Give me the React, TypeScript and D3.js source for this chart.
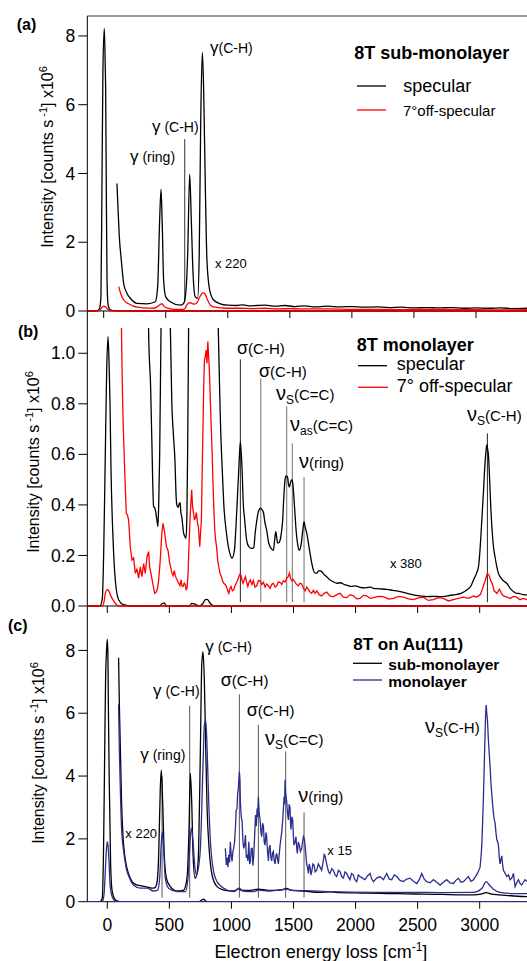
import React from 'react';
import * as d3 from 'd3';

type P = [number, number];

// ---------- tick values ----------
const xTicks = [0, 500, 1000, 1500, 2000, 2500, 3000];
const yTicksA = [0, 2, 4, 6, 8];
const yTicksB = [0, 0.2, 0.4, 0.6, 0.8, 1.0];
const yTicksC = [0, 2, 4, 6, 8];

// ---------- panel (a) 8T sub-monolayer ----------
const aSpecElastic: P[] = [[-132,0],[-60,0],[-35,0.05],[-22,0.42],[-14,3.6],[-6,7.0],[5,8.22],[12,7.2],[16,6.4],[21,3.6],[27,0.9],[35,0.2],[50,0.04],[80,0.01],[200,0],[3411,0]];
const aSpecX220: P[] = [[107,3.71],[115,3.03],[126,2.16],[142,1.48],[161,0.80],[188,0.51],[215,0.37],[268,0.22],[349,0.21],[416,0.27],[435,0.71],[451,2.65],[462,3.54],[471,2.65],[483,0.90],[500,0.41],[537,0.27],[617,0.17],[644,0.22],[661,0.51],[677,1.68],[693,3.98],[706,2.65],[720,1.10],[738,0.41],[757,0.37],[770,1.68],[782,5.55],[795,7.52],[805,6.52],[819,3.61],[832,1.48],[854,0.61],[886,0.32],[940,0.21],[1000,0.17],[1074,0.16],[1120,0.18],[1180,0.15],[1235,0.16],[1300,0.17],[1380,0.14],[1460,0.16],[1540,0.13],[1620,0.15],[1700,0.12],[1800,0.14],[1900,0.12],[2000,0.13],[2100,0.11],[2200,0.12],[2300,0.10],[2400,0.11],[2500,0.09],[2600,0.10],[2700,0.09],[2800,0.10],[2900,0.08],[3000,0.09],[3100,0.08],[3200,0.09],[3300,0.07],[3411,0.08]];
const aOffElastic: P[] = [[-132,0],[-60,0],[-30,0.03],[-15,0.1],[0,0.14],[15,0.12],[30,0.06],[50,0.02],[80,0],[3411,0]];
const aOffX220: P[] = [[121,0.71],[137,0.51],[161,0.32],[201,0.21],[268,0.11],[330,0.09],[403,0.08],[430,0.12],[443,0.15],[458,0.2],[470,0.21],[483,0.15],[497,0.11],[530,0.07],[564,0.05],[644,0.05],[660,0.1],[671,0.18],[685,0.23],[698,0.24],[712,0.22],[730,0.2],[745,0.22],[757,0.27],[770,0.38],[784,0.47],[795,0.52],[805,0.53],[816,0.5],[827,0.41],[840,0.3],[854,0.2],[870,0.14],[899,0.11],[950,0.09],[993,0.08],[1100,0.08],[1200,0.07],[1300,0.08],[1400,0.06],[1500,0.07],[1600,0.06],[1800,0.06],[2000,0.05],[2200,0.05],[2400,0.04],[2600,0.05],[2800,0.04],[3000,0.04],[3200,0.03],[3411,0.04]];
const aMarks: P[] = [[653, 5.0]];

// ---------- panel (b) 8T monolayer ----------
const bSpecElastic: P[] = [[-161,0],[-60,0],[-40,0.03],[-29,0.21],[-16,0.60],[-5,0.93],[6,1.066],[15,0.95],[22,0.8],[30,0.54],[46,0.27],[65,0.10],[92,0.024],[132,0.005],[200,0],[420,0],[445,0.01],[460,0.012],[475,0],[660,0],[680,0.01],[700,0.008],[740,0],[770,0.01],[790,0.025],[805,0.026],[830,0.01],[860,0],[3381,0]];
const bOffElastic: P[] = [[-161,0],[-40,0],[-25,0.02],[-16,0.05],[3,0.066],[12,0.06],[24,0.045],[51,0.02],[75,0.005],[100,0],[3381,0]];
const bSpecX380: P[] = [[322,1.6],[333,1.08],[349,0.868],[360,0.63],[373,0.393],[380,0.39],[387,0.38],[400,0.34],[408,0.314],[415,0.42],[422,0.60],[433,1.1],[440,1.6],[455,3],[490,1.8],[508,1.1],[520,0.8],[532,0.683],[546,0.565],[553,0.45],[560,0.40],[570,0.39],[580,0.405],[586,0.409],[593,0.37],[600,0.353],[615,0.288],[626,0.274],[634,0.268],[641,0.35],[647,0.6],[652,0.9],[655,1.1],[665,2.5],[690,4],[720,2.5],[760,3],[790,6],[850,2.5],[880,1.4],[894,1.1],[903,0.9],[911,0.736],[925,0.55],[938,0.406],[960,0.288],[987,0.209],[1005,0.189],[1024,0.22],[1035,0.3],[1046,0.406],[1059,0.538],[1072,0.65],[1086,0.538],[1096,0.40],[1105,0.35],[1123,0.26],[1140,0.235],[1164,0.228],[1180,0.23],[1191,0.288],[1205,0.34],[1217,0.373],[1236,0.387],[1248,0.38],[1258,0.37],[1270,0.33],[1284,0.30],[1300,0.25],[1311,0.235],[1325,0.225],[1338,0.22],[1348,0.26],[1357,0.294],[1365,0.27],[1371,0.25],[1380,0.25],[1392,0.26],[1405,0.3],[1413,0.34],[1422,0.43],[1432,0.50],[1440,0.515],[1451,0.512],[1460,0.48],[1467,0.47],[1477,0.49],[1486,0.50],[1493,0.49],[1499,0.46],[1510,0.38],[1521,0.30],[1535,0.24],[1547,0.22],[1556,0.23],[1566,0.26],[1575,0.30],[1585,0.334],[1595,0.31],[1606,0.29],[1620,0.25],[1633,0.209],[1647,0.17],[1660,0.142],[1675,0.13],[1687,0.13],[1705,0.14],[1727,0.136],[1745,0.125],[1767,0.116],[1790,0.105],[1821,0.096],[1850,0.09],[1880,0.092],[1910,0.085],[1929,0.083],[1960,0.078],[2000,0.08],[2036,0.074],[2080,0.072],[2120,0.075],[2144,0.07],[2190,0.068],[2251,0.066],[2300,0.062],[2359,0.057],[2400,0.052],[2466,0.044],[2520,0.04],[2573,0.037],[2630,0.038],[2681,0.037],[2740,0.04],[2788,0.044],[2850,0.05],[2896,0.063],[2930,0.08],[2950,0.103],[2975,0.13],[2990,0.155],[3005,0.24],[3017,0.34],[3030,0.45],[3038,0.525],[3050,0.61],[3057,0.637],[3064,0.62],[3070,0.6],[3080,0.5],[3089,0.393],[3100,0.3],[3111,0.235],[3125,0.19],[3138,0.155],[3150,0.13],[3164,0.116],[3190,0.1],[3218,0.09],[3245,0.07],[3272,0.057],[3300,0.05],[3313,0.05],[3350,0.045],[3381,0.044]];
const bOffX380: P[] = [[108,1.5],[114,1.1],[120,0.9],[127,0.736],[140,0.538],[153,0.367],[162,0.36],[172,0.34],[185,0.235],[199,0.182],[212,0.19],[226,0.129],[239,0.148],[252,0.11],[266,0.155],[279,0.116],[293,0.168],[306,0.129],[320,0.195],[333,0.215],[341,0.155],[352,0.129],[366,0.09],[382,0.05],[395,0.055],[405,0.07],[414,0.103],[425,0.17],[433,0.235],[440,0.29],[449,0.327],[455,0.31],[462,0.29],[476,0.235],[489,0.22],[503,0.17],[512,0.15],[521,0.13],[530,0.12],[540,0.14],[548,0.12],[556,0.11],[565,0.1],[575,0.09],[585,0.08],[594,0.103],[602,0.08],[610,0.077],[620,0.09],[629,0.083],[635,0.065],[642,0.07],[650,0.12],[656,0.209],[663,0.3],[669,0.367],[675,0.42],[680,0.46],[686,0.4],[691,0.38],[697,0.36],[702,0.34],[710,0.35],[718,0.37],[726,0.33],[734,0.314],[740,0.27],[745,0.235],[750,0.28],[758,0.34],[765,0.55],[772,0.736],[778,0.9],[783,0.973],[790,0.99],[796,1.013],[803,0.96],[810,1.046],[815,1.0],[820,0.96],[826,0.88],[831,0.80],[838,0.7],[845,0.60],[852,0.48],[858,0.39],[866,0.3],[873,0.26],[880,0.235],[890,0.18],[898,0.155],[908,0.13],[919,0.116],[928,0.1],[938,0.09],[950,0.085],[960,0.077],[970,0.06],[979,0.05],[988,0.07],[997,0.077],[1008,0.06],[1019,0.063],[1028,0.08],[1038,0.09],[1048,0.1],[1059,0.116],[1068,0.125],[1078,0.12],[1086,0.1],[1094,0.09],[1104,0.105],[1113,0.116],[1122,0.095],[1132,0.077],[1142,0.095],[1153,0.103],[1165,0.085],[1177,0.1],[1190,0.075],[1204,0.08],[1217,0.1],[1231,0.1],[1245,0.085],[1258,0.094],[1271,0.075],[1284,0.087],[1298,0.08],[1311,0.07],[1325,0.085],[1338,0.09],[1352,0.075],[1365,0.08],[1378,0.095],[1392,0.094],[1405,0.085],[1419,0.1],[1432,0.095],[1445,0.11],[1456,0.115],[1467,0.13],[1476,0.11],[1486,0.1],[1499,0.105],[1512,0.094],[1525,0.085],[1539,0.08],[1552,0.09],[1566,0.087],[1580,0.07],[1593,0.06],[1606,0.075],[1620,0.066],[1633,0.055],[1647,0.05],[1660,0.062],[1673,0.05],[1687,0.06],[1707,0.045],[1727,0.04],[1747,0.05],[1767,0.055],[1794,0.04],[1821,0.036],[1848,0.045],[1875,0.05],[1902,0.035],[1929,0.033],[1955,0.045],[1982,0.04],[2009,0.028],[2036,0.03],[2063,0.042],[2090,0.04],[2117,0.03],[2144,0.033],[2184,0.038],[2224,0.037],[2264,0.027],[2305,0.03],[2345,0.038],[2385,0.035],[2425,0.028],[2466,0.025],[2506,0.032],[2546,0.035],[2586,0.022],[2627,0.025],[2667,0.033],[2707,0.03],[2748,0.02],[2788,0.025],[2828,0.03],[2869,0.035],[2910,0.03],[2950,0.04],[2970,0.035],[2990,0.04],[3005,0.045],[3017,0.06],[3030,0.08],[3044,0.1],[3053,0.115],[3062,0.129],[3070,0.125],[3078,0.12],[3088,0.1],[3097,0.094],[3106,0.08],[3116,0.06],[3127,0.055],[3138,0.05],[3148,0.058],[3159,0.066],[3175,0.05],[3191,0.04],[3218,0.035],[3245,0.03],[3272,0.038],[3298,0.035],[3325,0.025],[3352,0.03],[3381,0.025]];
const bMarksDark: P[] = [[1072, 0.976], [3062, 0.683]];
const bMarksGray: P[] = [[1236, 0.90], [1445, 0.79], [1491, 0.644], [1585, 0.51]];

// ---------- panel (c) 8T on Au(111) ----------
const cSubElastic: P[] = [[-161,0],[-60,0],[-41,0.1],[-30,1.7],[-22,4.35],[-14,7.0],[-6,8.0],[0,8.36],[5,7.9],[8,6.48],[16,3.82],[27,1.17],[40,0.32],[67,0.05],[100,0],[740,0],[760,0.05],[775,0.08],[790,0.03],[820,0],[3381,0]];
const cMonoElastic: P[] = [[-161,0],[-50,0],[-35,0.05],[-25,0.3],[-18,0.8],[-8,1.6],[0,1.91],[8,1.7],[14,1.3],[21,0.64],[35,0.21],[54,0.05],[80,0],[3381,0]];
const cSubX220: P[] = [[91,7.77],[95,6.8],[99,5.95],[107,4.57],[115,3.18],[126,2.12],[140,1.49],[159,1.06],[185,0.75],[226,0.55],[266,0.51],[306,0.48],[340,0.45],[360,0.43],[385,0.45],[400,0.6],[414,1.49],[427,3.61],[435,4.19],[446,3.18],[459,1.49],[476,0.75],[508,0.48],[562,0.34],[615,0.37],[642,0.75],[658,2.23],[669,4.09],[680,3.18],[691,1.49],[707,0.75],[723,0.91],[736,1.7],[750,4.89],[761,7.54],[771,7.96],[782,7.0],[793,4.89],[804,2.97],[820,1.7],[844,0.85],[884,0.48],[938,0.37],[1018,0.34],[1064,0.42],[1072,0.37],[1140,0.36],[1217,0.4],[1300,0.36],[1400,0.37],[1445,0.42],[1470,0.38],[1520,0.35],[1606,0.33],[1700,0.3],[1800,0.31],[1875,0.29],[2000,0.28],[2100,0.27],[2250,0.26],[2412,0.25],[2550,0.24],[2700,0.23],[2850,0.22],[2950,0.22],[3010,0.24],[3052,0.29],[3090,0.25],[3150,0.22],[3250,0.19],[3381,0.16]];
const cMonoX220: P[] = [[91,6.28],[97,4.89],[105,3.61],[115,2.34],[132,1.6],[153,1.06],[180,0.75],[212,0.53],[266,0.43],[320,0.43],[373,0.34],[406,0.37],[422,0.75],[433,1.7],[443,2.23],[454,1.7],[467,0.75],[494,0.43],[562,0.32],[629,0.32],[650,0.75],[664,1.7],[677,2.34],[691,1.91],[702,1.28],[718,0.85],[736,1.12],[750,1.7],[771,4.35],[782,5.63],[793,5.79],[804,4.89],[817,3.18],[831,1.91],[852,1.06],[884,0.64],[938,0.43],[1018,0.32],[1064,0.43],[1090,0.34],[1180,0.32],[1217,0.37],[1300,0.34],[1445,0.4],[1500,0.36],[1606,0.35],[1800,0.32],[2144,0.3],[2400,0.3],[2681,0.29],[2950,0.3],[3017,0.42],[3052,0.64],[3078,0.53],[3111,0.4],[3164,0.3],[3272,0.26],[3381,0.26]];
const cMonoX15: P[] = [[951,1.7],[959,1.17],[965,1.4],[972,1.1],[978,1.49],[985,1.25],[991,1.91],[998,1.5],[1005,1.28],[1012,1.6],[1018,1.7],[1025,1.9],[1032,2.34],[1038,2.9],[1045,2.97],[1050,3.45],[1056,3.61],[1064,4.14],[1069,3.88],[1072,3.18],[1079,2.7],[1086,2.55],[1093,1.9],[1099,1.7],[1106,1.8],[1113,2.12],[1120,1.4],[1126,1.49],[1133,1.3],[1140,1.91],[1147,1.2],[1153,1.28],[1160,1.7],[1167,1.7],[1173,1.15],[1180,1.49],[1187,2.1],[1194,2.76],[1200,2.4],[1207,2.97],[1212,2.7],[1217,3.34],[1224,2.8],[1231,2.6],[1238,2.2],[1244,2.07],[1251,2.5],[1258,2.4],[1264,1.9],[1271,1.8],[1278,2.2],[1284,2.07],[1291,1.6],[1298,1.3],[1304,1.7],[1311,1.8],[1318,1.4],[1325,1.3],[1331,1.55],[1338,1.6],[1345,1.3],[1352,1.2],[1358,1.45],[1365,1.54],[1372,1.35],[1378,1.2],[1385,1.5],[1392,1.8],[1398,2.0],[1405,2.2],[1413,2.6],[1418,2.9],[1424,3.34],[1428,3.1],[1432,3.88],[1436,3.5],[1440,3.34],[1445,3.2],[1452,2.8],[1459,2.6],[1465,3.1],[1472,3.0],[1476,2.5],[1480,2.3],[1487,2.7],[1494,2.6],[1499,2.1],[1504,1.8],[1512,1.9],[1520,2.07],[1526,1.7],[1531,1.54],[1539,1.9],[1547,1.8],[1556,1.6],[1566,1.7],[1573,1.9],[1580,2.07],[1587,2.0],[1593,1.8],[1600,1.5],[1606,1.2],[1613,1.1],[1620,0.9],[1627,1.2],[1633,1.1],[1640,0.85],[1647,0.96],[1656,1.2],[1665,1.17],[1675,0.95],[1687,1.0],[1700,1.2],[1714,1.1],[1727,1.0],[1740,1.3],[1747,1.5],[1754,1.46],[1762,1.3],[1773,1.1],[1783,0.95],[1794,0.9],[1808,1.05],[1821,1.0],[1835,0.85],[1848,0.8],[1862,1.0],[1875,0.96],[1888,0.8],[1902,0.75],[1915,0.95],[1929,0.9],[1942,0.78],[1955,0.7],[1968,0.9],[1982,0.85],[1995,0.7],[2009,0.64],[2022,0.85],[2036,0.8],[2056,0.75],[2076,0.7],[2096,0.82],[2117,0.9],[2130,0.72],[2144,0.64],[2170,0.75],[2197,0.8],[2224,0.7],[2251,0.9],[2271,0.72],[2291,0.7],[2312,0.85],[2332,0.8],[2358,0.68],[2385,0.64],[2412,0.72],[2439,0.75],[2466,0.65],[2493,0.58],[2513,0.7],[2533,0.9],[2553,0.72],[2573,0.64],[2600,0.6],[2627,0.7],[2654,0.62],[2681,0.53],[2707,0.62],[2734,0.7],[2761,0.6],[2788,0.58],[2808,0.68],[2829,0.75],[2849,0.62],[2869,0.64],[2889,0.72],[2909,0.8],[2930,0.65],[2950,0.7],[2966,0.8],[2982,0.9],[3003,1.1],[3010,1.4],[3017,1.8],[3024,2.6],[3030,3.34],[3037,4.4],[3044,5.47],[3048,6.0],[3052,6.26],[3057,6.0],[3062,5.8],[3066,5.5],[3070,5.15],[3077,4.7],[3084,4.3],[3090,3.8],[3097,3.45],[3104,3.1],[3111,2.8],[3118,2.6],[3124,2.5],[3131,2.2],[3138,1.97],[3145,1.9],[3151,1.8],[3158,1.4],[3164,1.2],[3171,1.35],[3178,1.46],[3184,1.2],[3191,1.0],[3205,0.9],[3218,0.8],[3232,0.85],[3245,0.7],[3258,0.75],[3272,0.9],[3279,0.65],[3285,0.48],[3298,0.6],[3312,0.7],[3325,0.58],[3338,0.53],[3352,0.62],[3365,0.7],[3381,0.64]];
const cMarks: P[] = [[441, 4.0], [664, 6.24], [1064, 6.6], [1217, 5.63], [1437, 4.78], [1585, 2.84]];

// ---------- layout ----------
const FONT = "Arial, 'Liberation Sans', Helvetica, sans-serif";
const L = 87.3, R = 527;
const RED = '#ff0000';
const BLUE = '#2b2d8e';

const xA = d3.scaleLinear().domain([-132, 3411]).range([L, R]);
const xBC = d3.scaleLinear().domain([-161, 3381]).range([L, R]);
const yA = d3.scaleLinear().domain([0, 8.58]).range([311, 16]);
const yB = d3.scaleLinear().domain([0, 1.1]).range([606, 328]);
const yC = d3.scaleLinear().domain([0, 9]).range([901.7, 619]);

function path(data: P[], xs: any, ys: any, smooth = false) {
  return d3.line<P>().x(d => xs(d[0])).y(d => ys(d[1])).curve(smooth ? d3.curveMonotoneX : d3.curveLinear)(data) || '';
}

function YTitle({ x, y }: { x: number; y: number }) {
  return (
    <text transform={`translate(${x},${y}) rotate(-90)`} textAnchor="middle" fontSize={16} fontFamily={FONT}>
      Intensity [counts s<tspan dy={-6} fontSize={11}> -1</tspan><tspan dy={6}>] x10</tspan><tspan dy={-6} fontSize={11}>6</tspan>
    </text>
  );
}

function YAxis({ ys, ticks, fmt }: { ys: any; ticks: number[]; fmt: (v: number) => string }) {
  return (
    <g>
      {ticks.map(t => (
        <g key={t}>
          <line x1={L - 9} x2={L} y1={ys(t)} y2={ys(t)} stroke="#000" strokeWidth={1} />
          <text x={L - 12} y={ys(t)} dy="0.35em" textAnchor="end" fontSize={17.5} fontFamily={FONT}>{fmt(t)}</text>
        </g>
      ))}
    </g>
  );
}

function XTicks({ xs, y0, labels }: { xs: any; y0: number; labels?: boolean }) {
  return (
    <g>
      <line x1={L} x2={R} y1={y0} y2={y0} stroke="#000" strokeWidth={1} />
      {xTicks.map(t => (
        <g key={t}>
          <line x1={xs(t)} x2={xs(t)} y1={y0} y2={y0 + 7} stroke="#000" strokeWidth={1} />
          {labels && <text x={xs(t)} y={y0 + 29} textAnchor="middle" fontSize={17.5} fontFamily={FONT}>{t}</text>}
        </g>
      ))}
    </g>
  );
}

function Nu({ x, y, sub, rest, fs = 15 }: { x: number; y: number; sub?: string; rest: string; fs?: number }) {
  return (
    <text x={x} y={y} fontSize={fs} fontFamily={FONT}>
      <tspan fontSize={20}>ν</tspan>
      {sub ? <><tspan fontSize={12} dy={4}>{sub}</tspan><tspan dy={-4}>{rest}</tspan></> : <tspan>{rest}</tspan>}
    </text>
  );
}

function Gamma({ x, y, rest, space }: { x: number; y: number; rest: string; space?: boolean }) {
  return (
    <text x={x} y={y} fontSize={14} fontFamily={FONT}>
      <tspan fontSize={17}>γ</tspan>{space ? <tspan> {rest}</tspan> : <tspan>{rest}</tspan>}
    </text>
  );
}

function Sigma({ x, y }: { x: number; y: number }) {
  return (
    <text x={x} y={y} fontSize={15} fontFamily={FONT}>
      <tspan fontSize={18}>σ</tspan>(C-H)
    </text>
  );
}

export default function App() {
  return (
    <svg width={527} height={961} style={{ position: 'absolute', left: 0, top: 0, background: '#fff' }}>
      <defs>
        <clipPath id="cA"><rect x={L} y={16} width={R - L} height={296} /></clipPath>
        <clipPath id="cB"><rect x={L} y={328} width={R - L} height={279} /></clipPath>
        <clipPath id="cC"><rect x={L} y={619} width={R - L} height={283} /></clipPath>
      </defs>
      <rect x={0} y={0} width={527} height={961} fill="#fff" />

      {/* frame */}
      <line x1={L} x2={R} y1={16} y2={16} stroke="#333" strokeWidth={1} />
      <line x1={L} x2={L} y1={16} y2={901.7} stroke="#000" strokeWidth={1} />

      {/* ---------------- panel a ---------------- */}
      <XTicks xs={xA} y0={311} />
      <YAxis ys={yA} ticks={yTicksA} fmt={v => String(v)} />
      <YTitle x={52.6} y={157} />
      <text x={16.7} y={30} fontSize={16} fontWeight="bold" fontFamily={FONT}>(a)</text>
      <g clipPath="url(#cA)" fill="none" strokeWidth={1.3}>
        {aMarks.map(([x, y]) => (
          <line key={x} x1={xA(x)} x2={xA(x)} y1={yA(y)} y2={yA(0.27)} stroke="#333" strokeWidth={1} />
        ))}
        <path d={path(aSpecElastic, xA, yA, true)} stroke="#000" />
        <path d={path(aSpecX220, xA, yA, true)} stroke="#000" />
        <path d={path(aOffX220, xA, yA, true)} stroke={RED} />
        <path d={path(aOffElastic, xA, yA, true)} stroke={RED} />
      </g>
      <Gamma x={210} y={53} rest="(C-H)" />
      <Gamma x={152} y={132} rest="(C-H)" space />
      <Gamma x={130} y={162} rest="(ring)" space />
      <text x={215} y={268} fontSize={13} fontFamily={FONT}>x 220</text>
      <text x={354.3} y={59} fontSize={18} fontWeight="bold" fontFamily={FONT}>8T sub-monolayer</text>
      <line x1={357} x2={386} y1={86} y2={86} stroke="#000" strokeWidth={1.3} />
      <text x={403.3} y={92} fontSize={18} fontFamily={FONT}>specular</text>
      <line x1={357} x2={386} y1={110} y2={110} stroke={RED} strokeWidth={1.3} />
      <text x={403} y={116} fontSize={15} fontFamily={FONT}>7°off-specular</text>

      {/* ---------------- panel b ---------------- */}
      <XTicks xs={xBC} y0={606} />
      <YAxis ys={yB} ticks={yTicksB} fmt={v => v.toFixed(1)} />
      <YTitle x={38.6} y={462} />
      <text x={18} y={337} fontSize={16} fontWeight="bold" fontFamily={FONT}>(b)</text>
      <g clipPath="url(#cB)" fill="none" strokeWidth={1.3}>
        {bMarksDark.map(([x, y]) => (
          <line key={x} x1={xBC(x)} x2={xBC(x)} y1={yB(y)} y2={yB(0.015)} stroke="#222" strokeWidth={1} />
        ))}
        {bMarksGray.map(([x, y]) => (
          <line key={x} x1={xBC(x)} x2={xBC(x)} y1={yB(y)} y2={yB(0.015)} stroke="#888" strokeWidth={1.2} />
        ))}
        <path d={path(bSpecElastic, xBC, yB, true)} stroke="#000" />
        <path d={path(bSpecX380, xBC, yB, true)} stroke="#000" />
        <path d={path(bOffX380, xBC, yB)} stroke={RED} />
        <path d={path(bOffElastic, xBC, yB, true)} stroke={RED} />
      </g>
      <Sigma x={237} y={354} />
      <Sigma x={259} y={377} />
      <Nu x={276} y={400} sub="S" rest="(C=C)" />
      <Nu x={290} y={431} sub="as" rest="(C=C)" />
      <Nu x={299} y={468} rest="(ring)" />
      <Nu x={467} y={421} sub="S" rest="(C-H)" />
      <text x={390} y={568} fontSize={13} fontFamily={FONT}>x 380</text>
      <text x={356.7} y={351} fontSize={18} fontWeight="bold" fontFamily={FONT}>8T monolayer</text>
      <line x1={358} x2={387} y1={365.7} y2={365.7} stroke="#000" strokeWidth={1.3} />
      <text x={396.7} y={370} fontSize={18} fontFamily={FONT}>specular</text>
      <line x1={358} x2={388} y1={387.3} y2={387.3} stroke={RED} strokeWidth={1.3} />
      <text x={396.7} y={391.5} fontSize={18} fontFamily={FONT}>7° off-specular</text>

      {/* ---------------- panel c ---------------- */}
      <XTicks xs={xBC} y0={901.7} labels />
      <YAxis ys={yC} ticks={yTicksC} fmt={v => String(v)} />
      <YTitle x={44} y={753} />
      <text x={8} y={631} fontSize={16} fontWeight="bold" fontFamily={FONT}>(c)</text>
      <g clipPath="url(#cC)" fill="none" strokeWidth={1.3}>
        {cMarks.map(([x, y]) => (
          <line key={x} x1={xBC(x)} x2={xBC(x)} y1={yC(y)} y2={yC(0.13)} stroke="#555" strokeWidth={1} />
        ))}
        <path d={path(cSubElastic, xBC, yC, true)} stroke="#000" />
        <path d={path(cSubX220, xBC, yC, true)} stroke="#000" />
        <path d={path(cMonoElastic, xBC, yC, true)} stroke={BLUE} />
        <path d={path(cMonoX220, xBC, yC, true)} stroke={BLUE} />
        <path d={path(cMonoX15, xBC, yC)} stroke={BLUE} />
      </g>
      <Gamma x={140.3} y={760} rest="(ring)" space />
      <Gamma x={153} y={696} rest="(C-H)" space />
      <Gamma x={205.3} y={652} rest="(C-H)" space />
      <Sigma x={220.7} y={686} />
      <Sigma x={246.7} y={716} />
      <Nu x={265} y={745} sub="S" rest="(C=C)" />
      <Nu x={298.3} y={802} rest="(ring)" />
      <Nu x={425} y={733} sub="S" rest="(C-H)" />
      <text x={327.3} y={855} fontSize={13} fontFamily={FONT}>x 15</text>
      <text x={125.3} y={838} fontSize={13} fontFamily={FONT}>x 220</text>
      <text x={353.3} y={649.5} fontSize={17} fontWeight="bold" fontFamily={FONT}>8T on Au(111)</text>
      <line x1={353} x2={382} y1={663.3} y2={663.3} stroke="#000" strokeWidth={1.3} />
      <text x={388.3} y={669.5} fontSize={15.5} fontWeight="bold" fontFamily={FONT}>sub-monolayer</text>
      <line x1={353} x2={382} y1={680} y2={680} stroke={BLUE} strokeWidth={1.3} />
      <text x={388.3} y={687} fontSize={15.5} fontWeight="bold" fontFamily={FONT}>monolayer</text>

      <text x={321} y={958} textAnchor="middle" fontSize={18} fontFamily={FONT}>
        Electron energy loss [cm<tspan dy={-7} fontSize={12}>-1</tspan><tspan dy={7}>]</tspan>
      </text>
    </svg>
  );
}
